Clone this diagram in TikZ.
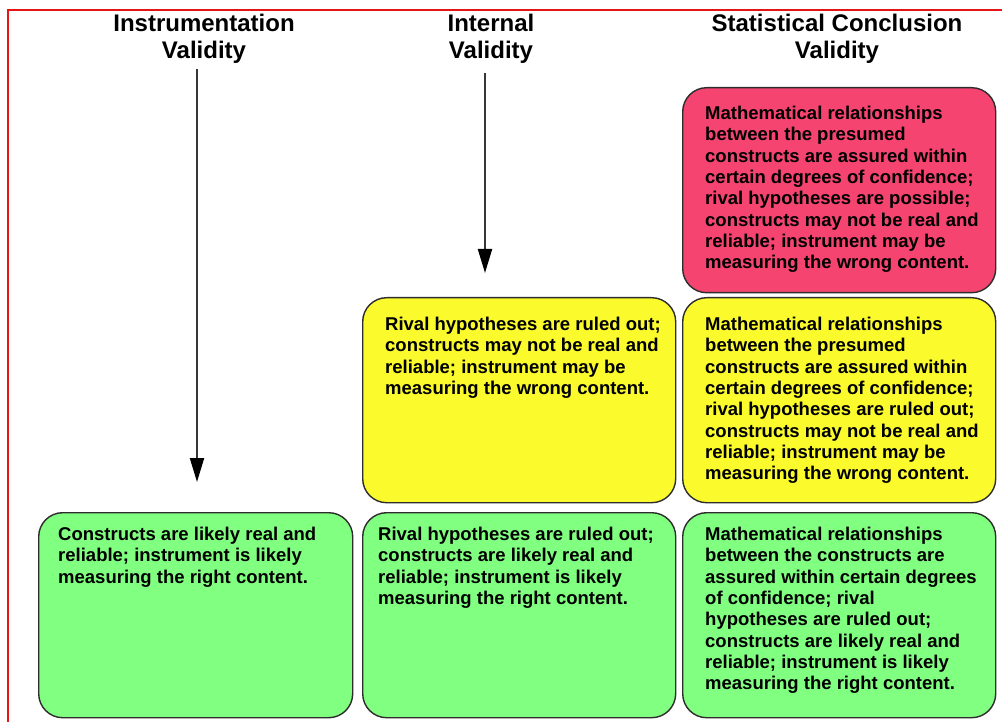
\documentclass[tikz,border=0pt]{standalone}
\usepackage{fontspec}
\setmainfont{Liberation Sans}
\usetikzlibrary{arrows.meta}

\definecolor{framered}{RGB}{230,20,20}
\definecolor{cardred}{RGB}{245,68,111}
\definecolor{cardyellow}{RGB}{250,250,45}
\definecolor{cardgreen}{RGB}{128,255,128}
\definecolor{cardedge}{RGB}{45,45,45}
\definecolor{arrowgray}{RGB}{55,55,55}

\tikzset{
  card/.style={draw=cardedge, line width=1.4pt, rounded corners=24pt,
    minimum width=313pt, minimum height=205pt, inner sep=0pt,
    anchor=north west},
  cardtext/.style={anchor=north west, inner sep=0pt, align=left,
    font=\fontsize{18.5}{21.3}\selectfont\bfseries},
  heading/.style={anchor=north, inner sep=0pt, align=center,
    font=\fontsize{24}{27}\selectfont\bfseries},
  flow/.style={draw=arrowgray, line width=2pt,
    -{Triangle[width=14pt,length=24pt,fill=black,color=black]}}
}

\begin{document}
\begin{tikzpicture}[x=1pt,y=-1pt]
\useasboundingbox (0,0) rectangle (1002,722);
\fill[white] (0,0) rectangle (1002,722);

% page frame, top and left edges
\draw[framered, line width=1.5pt] (8,722) -- (8,10) -- (1002,10);

% column headings
\node[heading] (hInst) at (204,13.5) {Instrumentation\\Validity};
\node[heading] (hInt)  at (491,13.5) {Internal\\Validity};
\node[heading] (hStat) at (837,13.5) {Statistical Conclusion\\Validity};

% top row
\node[card, fill=cardred] (statTop) at (682,87) {};
\node[cardtext] (statTopText) at (705,106) {Mathematical relationships\\
between the presumed\\
constructs are assured within\\
certain degrees of confidence;\\
rival hypotheses are possible;\\
constructs may not be real and\\
reliable; instrument may be\\
measuring the wrong content.};

% middle row
\node[card, fill=cardyellow] (intMid) at (362,297) {};
\node[cardtext] (intMidText) at (385,317) {Rival hypotheses are ruled out;\\
constructs may not be real and\\
reliable; instrument may be\\
measuring the wrong content.};

\node[card, fill=cardyellow] (statMid) at (682,297) {};
\node[cardtext] (statMidText) at (705,317) {Mathematical relationships\\
between the presumed\\
constructs are assured within\\
certain degrees of confidence;\\
rival hypotheses are ruled out;\\
constructs may not be real and\\
reliable; instrument may be\\
measuring the wrong content.};

% bottom row
\node[card, fill=cardgreen, minimum width=314pt] (instLow) at (38,512) {};
\node[cardtext] (instLowText) at (58,527) {Constructs are likely real and\\
reliable; instrument is likely\\
measuring the right content.};

\node[card, fill=cardgreen] (intLow) at (362,512) {};
\node[cardtext] (intLowText) at (378,527) {Rival hypotheses are ruled out;\\
constructs are likely real and\\
reliable; instrument is likely\\
measuring the right content.};

\node[card, fill=cardgreen] (statLow) at (682,512) {};
\node[cardtext] (statLowText) at (705,527) {Mathematical relationships\\
between the constructs are\\
assured within certain degrees\\
of confidence; rival\\
hypotheses are ruled out;\\
constructs are likely real and\\
reliable; instrument is likely\\
measuring the right content.};

% downward arrows under the first two headings
\coordinate (instStart) at (197,69);
\coordinate (instEnd)   at (197,482);
\coordinate (intStart)  at (485,73);
\coordinate (intEnd)    at (485,273);
\draw[flow] (instStart) -- (instEnd);
\draw[flow] (intStart) -- (intEnd);
\end{tikzpicture}
\end{document}
